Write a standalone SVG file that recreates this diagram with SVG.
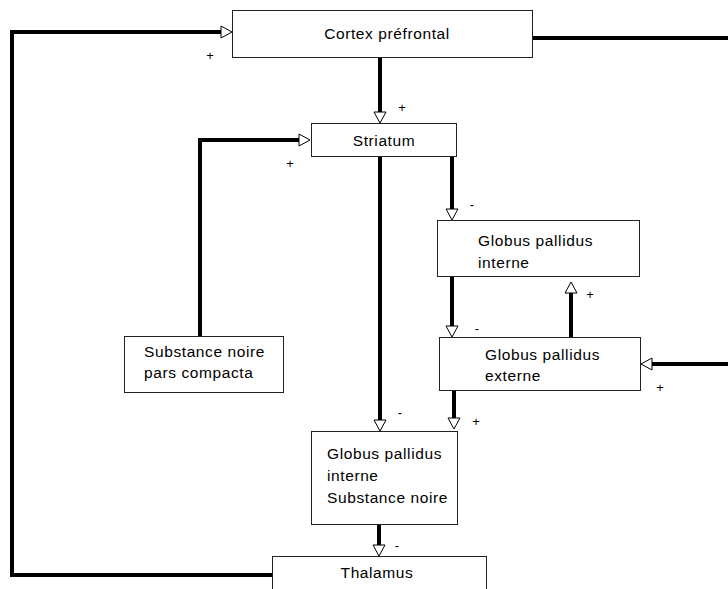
<svg xmlns="http://www.w3.org/2000/svg" width="728" height="589" viewBox="0 0 728 589">
<style>
.box{fill:#fff;stroke:#222;stroke-width:1}
.t{font-family:"Liberation Sans",Arial,sans-serif;font-size:15.5px;letter-spacing:0.6px;fill:#000}
.c{fill:none;stroke:#000;stroke-width:4}
.s{font-family:"Liberation Sans",Arial,sans-serif;font-size:13px;fill:#000;text-anchor:middle}
</style>
<defs>
<marker id="a" markerUnits="userSpaceOnUse" markerWidth="14" markerHeight="16" refX="1" refY="7" orient="auto" viewBox="0 0 14 16">
<path d="M1,1 L12,7 L1,13 Z" fill="#fff" stroke="#000" stroke-width="1"/>
</marker>
</defs>
<rect width="728" height="589" fill="#fff"/>
<g id="connectors">
<path class="c" d="M272,575 H12 V32 H221" marker-end="url(#a)"/>
<path class="c" d="M533,38 H728"/>
<path class="c" d="M380,57 V112" marker-end="url(#a)"/>
<path class="c" d="M200,336 V140 H299" marker-end="url(#a)"/>
<path class="c" d="M380,157 V420" marker-end="url(#a)"/>
<path class="c" d="M452,157 V209" marker-end="url(#a)"/>
<path class="c" d="M452,277 V326" marker-end="url(#a)"/>
<path class="c" d="M571,337 V293" marker-end="url(#a)"/>
<path class="c" d="M728,364 H652" marker-end="url(#a)"/>
<path class="c" d="M454,391 V418" marker-end="url(#a)"/>
<path class="c" d="M379,525 V545" marker-end="url(#a)"/>
<text class="s" x="210" y="60">+</text>
<text class="s" x="402" y="112">+</text>
<text class="s" x="290" y="168">+</text>
<text class="s" x="472" y="209">-</text>
<text class="s" x="477" y="333">-</text>
<text class="s" x="590" y="299">+</text>
<text class="s" x="660" y="392">+</text>
<text class="s" x="400" y="417">-</text>
<text class="s" x="476" y="426">+</text>
<text class="s" x="397" y="550">-</text>
</g>
<g id="cortex">
<rect class="box" x="232.5" y="10.5" width="300" height="47"/>
<text class="t" x="387" y="39" text-anchor="middle">Cortex préfrontal</text>
</g>
<g id="striatum">
<rect class="box" x="311.5" y="123.5" width="145" height="33"/>
<text class="t" x="384" y="146" text-anchor="middle">Striatum</text>
</g>
<g id="snc">
<rect class="box" x="124.5" y="336.5" width="159" height="56"/>
<text class="t" x="144" y="357">Substance noire</text>
<text class="t" x="144" y="378">pars compacta</text>
</g>
<g id="gpi">
<rect class="box" x="437.5" y="220.5" width="202" height="56"/>
<text class="t" x="478" y="246">Globus pallidus</text>
<text class="t" x="478" y="268">interne</text>
</g>
<g id="gpe">
<rect class="box" x="439.5" y="337.5" width="201" height="53"/>
<text class="t" x="485" y="360">Globus pallidus</text>
<text class="t" x="485" y="381">externe</text>
</g>
<g id="gpisn">
<rect class="box" x="311.5" y="431.5" width="146" height="93"/>
<text class="t" x="327" y="459">Globus pallidus</text>
<text class="t" x="327" y="481">interne</text>
<text class="t" x="327" y="503">Substance noire</text>
</g>
<g id="thalamus">
<rect class="box" x="272.5" y="556.5" width="214" height="40"/>
<text class="t" x="377" y="578" text-anchor="middle">Thalamus</text>
</g>
</svg>
